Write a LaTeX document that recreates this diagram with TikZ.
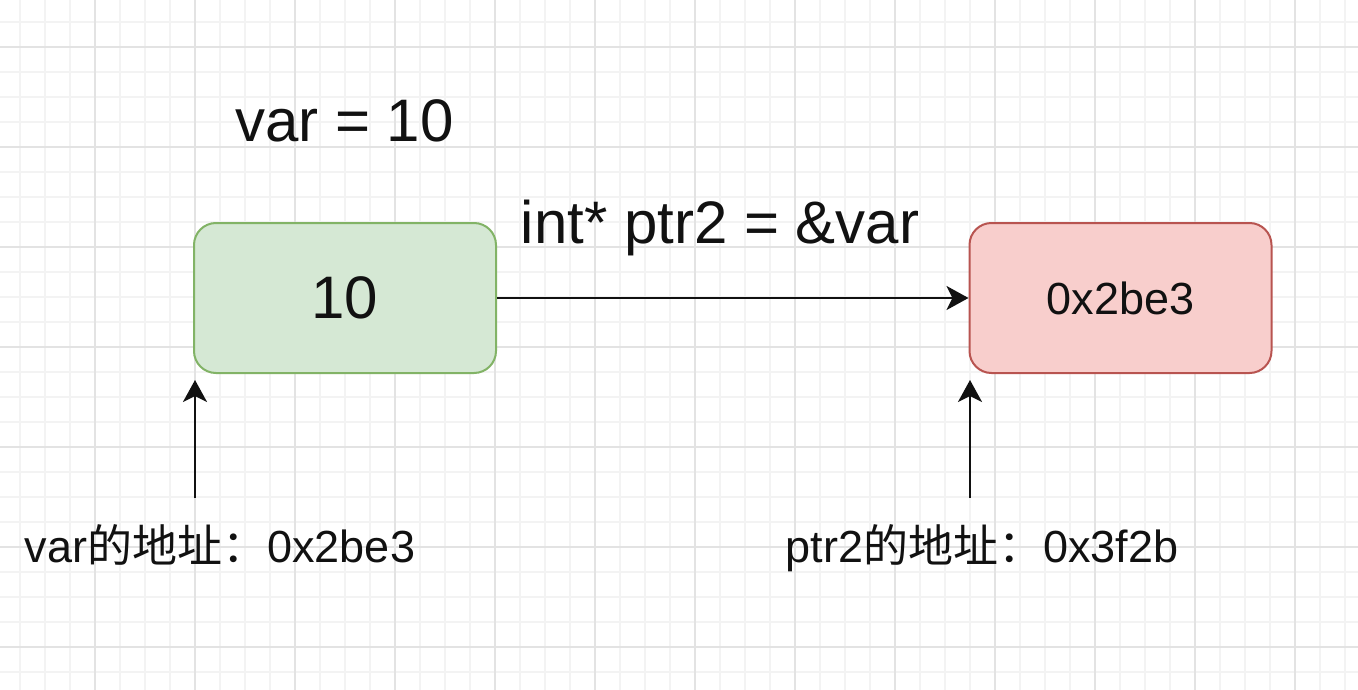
\documentclass[tikz,border=0pt]{standalone}
\usepackage{fontspec}
\setmainfont{Liberation Sans}
\newfontfamily\cjk{Noto Sans CJK SC}
\usetikzlibrary{arrows.meta}
\definecolor{gfill}{HTML}{D5E8D4}
\definecolor{gline}{HTML}{82B366}
\definecolor{rfill}{HTML}{F8CECC}
\definecolor{rline}{HTML}{B85450}
\definecolor{minorgrid}{HTML}{F3F3F3}
\definecolor{majorgrid}{HTML}{E3E3E3}
\definecolor{ink}{HTML}{111111}
\tikzset{
  minorline/.style={draw=minorgrid, line width=1.1pt},
  majorline/.style={draw=majorgrid, line width=1.6pt},
  membox/.style={rounded corners=22pt, minimum width=302pt, minimum height=150pt, line width=2pt, inner sep=0pt},
  bigtext/.style={font=\fontsize{60}{64}\selectfont, text=ink, inner sep=0pt},
  midtext/.style={font=\fontsize{45}{52}\selectfont, text=ink, inner sep=0pt},
  conn/.style={draw=ink, line width=2.6pt, -{Stealth[length=22pt,width=24pt,inset=6pt]}}
}
\begin{document}
\begin{tikzpicture}[x=1pt,y=-1pt]
\useasboundingbox (0,0) rectangle (1358,690);
\fill[white] (0,0) rectangle (1358,690);
% grid
\foreach \x in {20,45,...,1345} \draw[minorline] (\x,0) -- (\x,690);
\foreach \y in {22,47,...,672} \draw[minorline] (0,\y) -- (1358,\y);
\foreach \x in {95,195,...,1295} \draw[majorline] (\x,0) -- (\x,690);
\foreach \y in {47,147,...,647} \draw[majorline] (0,\y) -- (1358,\y);
% boxes
\node[membox, fill=gfill, draw=gline, font=\fontsize{60}{64}\selectfont, text=ink] (var) at (345,298) {10};
\node[membox, fill=rfill, draw=rline, font=\fontsize{45}{52}\selectfont, text=ink] (ptr) at (1120.5,298) {0x2be3};
% titles
\node[bigtext, anchor=base] (vartitle) at (344.5,142) {var = 10};
\node[bigtext, anchor=base] (ptrtitle) at (720,243) {int* ptr2 = \&var};
% bottom labels
\node[midtext, anchor=base] (varaddr) at (220,562) {var{\cjk 的地址：}0x2be3};
\node[midtext, anchor=base] (ptraddr) at (982,562) {ptr2{\cjk 的地址：}0x3f2b};
% connectors
\coordinate (vstart) at (195,498);
\coordinate (vend) at (195,380);
\coordinate (pstart) at (970,498);
\coordinate (pend) at (970,380);
\draw[conn] (var.east) -- (ptr.west);
\draw[conn] (vstart) -- (vend);
\draw[conn] (pstart) -- (pend);
\end{tikzpicture}
\end{document}
